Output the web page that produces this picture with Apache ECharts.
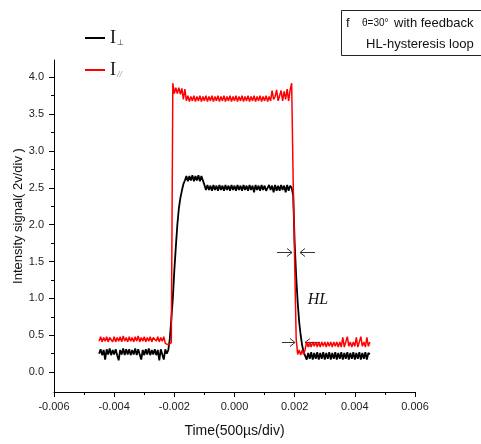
<!DOCTYPE html>
<html><head><meta charset="utf-8">
<script src="https://cdn.jsdelivr.net/npm/echarts@6/dist/echarts.min.js"></script>
<style>html,body{margin:0;padding:0;background:#fff}#c{width:481px;height:444px}</style>
</head><body><div id="c"></div>
<script>
// sampling clock of the trace (s)
const T_START = -0.0045;
const T_STEP = 0.00005;
// tick labels
const xTicks = [-0.006, -0.004, -0.002, 0, 0.002, 0.004, 0.006];
const yTicks = [0, 0.5, 1.0, 1.5, 2.0, 2.5, 3.0, 3.5, 4.0];
const yMinorTicks = [0.25, 0.75, 1.25, 1.75, 2.25, 2.75, 3.25, 3.75];
// I_perp (black)
const perpValues = [
  0.25,0.31,0.23,0.30,0.17,0.31,0.24,0.32,0.23,0.30,
  0.24,0.31,0.23,0.16,0.30,0.24,0.32,0.23,0.31,0.24,
  0.31,0.23,0.30,0.24,0.32,0.23,0.31,0.24,0.17,0.30,
  0.23,0.31,0.24,0.32,0.23,0.30,0.24,0.31,0.23,0.30,
  0.16,0.31,0.24,0.17,0.31,0.25,
  0.30,0.45,0.72,1.00,1.38,1.70,2.00,2.22,2.36,2.46,2.55,2.60,
  2.66,2.59,2.66,2.60,2.67,2.59,2.66,2.60,2.67,2.59,2.66,2.60,
  2.54,2.47,2.54,2.47,2.53,2.46,2.54,2.47,2.53,2.46,
  2.54,2.47,2.53,2.46,2.54,2.47,2.53,2.46,2.54,2.47,
  2.53,2.46,2.54,2.47,2.53,2.46,2.54,2.47,2.53,2.46,
  2.54,2.47,2.53,2.44,2.54,2.47,2.53,2.46,2.54,2.47,
  2.53,2.46,2.44,2.54,2.47,2.53,2.44,2.54,2.46,2.53,
  2.46,2.54,2.47,2.53,2.44,2.54,2.46,2.53,
  2.50,2.40,1.75,1.30,0.95,0.68,0.50,0.36,0.27,0.22,
  0.17,0.26,0.18,0.27,0.17,0.26,0.18,0.27,0.17,0.26,0.18,0.27,
  0.17,0.26,0.18,0.27,0.17,0.26,0.18,0.27,0.17,0.26,
  0.18,0.27,0.17,0.26,0.18,0.27,0.17,0.26,0.18,0.27,
  0.17,0.26,0.18,0.27,0.17,0.26,0.18,0.27,0.17,0.26,0.24
];
// I_parallel (red)
const paraValues = [
  0.42,0.48,0.41,0.47,0.42,0.48,0.41,0.47,0.49,0.41,
  0.48,0.41,0.47,0.42,0.48,0.41,0.49,0.42,0.47,0.41,
  0.48,0.42,0.47,0.41,0.48,0.42,0.49,0.41,0.47,0.42,
  0.48,0.41,0.47,0.42,0.48,0.41,0.47,0.49,0.42,0.48,
  0.41,0.47,0.42,0.48,0.39,0.38,
  0.37,0.38,0.40,
  3.92,3.78,3.86,3.78,3.86,3.77,3.85,3.70,3.84,
  3.68,3.75,3.67,3.74,3.68,3.75,3.67,3.74,3.68,3.75,3.67,3.74,
  3.68,3.75,3.67,3.74,3.68,3.75,3.67,3.74,3.68,3.75,
  3.67,3.74,3.68,3.75,3.67,3.74,3.68,3.75,3.67,3.74,
  3.68,3.75,3.67,3.74,3.68,3.75,3.67,3.74,3.68,3.75,
  3.67,3.74,3.68,3.75,3.67,3.74,3.68,3.75,3.67,3.74,
  3.68,3.75,3.67,3.74,3.68,3.82,3.70,3.74,3.83,3.68,
  3.75,3.82,3.68,3.81,3.70,3.84,3.68,3.83,
  3.92,
  2.60,1.50,0.45,
  0.24,0.30,0.23,0.30,0.24,0.31,
  0.41,0.34,0.41,0.34,0.41,0.35,0.41,0.34,0.41,0.34,0.41,0.35,
  0.41,0.34,0.41,0.35,0.41,0.34,0.41,0.35,0.41,0.34,
  0.41,0.34,0.47,0.34,0.41,0.48,0.35,0.41,0.34,0.41,
  0.35,0.47,0.34,0.41,0.48,0.35,0.41,0.34,0.47,0.35,0.41
];

function toPairs(vals) {
  return vals.map((v, i) => [T_START + i * T_STEP, v]);
}

const chart = echarts.init(document.getElementById('c'), null, {renderer: 'canvas'});
const axisFont = {fontFamily: 'Liberation Sans, Arial, sans-serif', fontSize: 11, color: '#222'};

chart.setOption({
  animation: false,
  backgroundColor: '#fff',
  grid: {left: 54, right: 66, top: 60, bottom: 52, containLabel: false},
  legend: {
    orient: 'vertical', left: 80, top: 24, itemWidth: 20, itemHeight: 2, itemGap: 14,
    icon: 'rect',
    data: ['perp', 'para'],
    formatter: n => n === 'perp' ? '{i|I}{s|⊥}' : '{i|I}{p|//}',
    textStyle: {
      rich: {
        i: {fontFamily: 'Liberation Serif, Times New Roman, serif', fontSize: 18, color: '#111', verticalAlign: 'bottom'},
        s: {fontFamily: 'DejaVu Sans, sans-serif', fontSize: 8, color: '#333', verticalAlign: 'bottom', padding: [8, 0, 0, 1]},
        p: {fontFamily: 'Liberation Serif, serif', fontStyle: 'italic', fontSize: 9, color: '#777', verticalAlign: 'bottom', padding: [8, 0, 0, 1]}
      }
    }
  },
  xAxis: {
    type: 'value', min: -0.006, max: 0.006, interval: 0.002,
    name: 'Time(500\u00b5s/div)', nameLocation: 'middle', nameGap: 32,
    nameTextStyle: {fontFamily: 'Liberation Sans, Arial, sans-serif', fontSize: 14, color: '#111'},
    axisLine: {onZero: false, lineStyle: {color: '#000', width: 1}},
    axisTick: {length: 5, lineStyle: {color: '#000'}},
    minorTick: {show: true, splitNumber: 2, length: 3, lineStyle: {color: '#000'}},
    splitLine: {show: false},
    axisLabel: Object.assign({margin: 9, formatter: v => v.toFixed(3)}, axisFont)
  },
  yAxis: [{
    type: 'value', min: -0.27, max: 4.235,
    axisLine: {show: true, onZero: false, lineStyle: {color: '#000', width: 1}},
    axisTick: {show: true, length: 5, customValues: yTicks, lineStyle: {color: '#000'}},
    splitLine: {show: false},
    axisLabel: Object.assign({margin: 10, customValues: yTicks, formatter: v => v.toFixed(1)}, axisFont)
  }, {
    type: 'value', min: -0.27, max: 4.235, position: 'left', offset: 0,
    axisLine: {show: false, onZero: false},
    axisTick: {show: true, length: 3, customValues: yMinorTicks, lineStyle: {color: '#000'}},
    splitLine: {show: false},
    axisLabel: {show: false}
  }],
  series: [
    {name: 'perp', type: 'line', symbol: 'none', data: toPairs(perpValues),
     lineStyle: {color: '#000', width: 1.8}, itemStyle: {color: '#000'}},
    {name: 'para', type: 'line', symbol: 'none', data: toPairs(paraValues),
     lineStyle: {color: '#ff0000', width: 1.5}, itemStyle: {color: '#ff0000'}}
  ],
  graphic: [
    {type: 'text', x: 18, y: 216, rotation: Math.PI / 2,
     style: {text: 'Intensity signal( 2v/div )', fontFamily: 'Liberation Sans, Arial, sans-serif', fontSize: 13, fill: '#111', align: 'center', verticalAlign: 'middle'}},
    {type: 'rect', shape: {x: 341.5, y: 10.5, width: 150, height: 45}, style: {fill: 'none', stroke: '#222', lineWidth: 1}},
    {type: 'text', x: 346, y: 23, style: {text: 'f', fontFamily: 'Liberation Sans, Arial, sans-serif', fontSize: 13, fill: '#111', verticalAlign: 'middle'}},
    {type: 'text', x: 362, y: 23, style: {text: '\u03b8=30\u00b0', fontFamily: 'Liberation Sans, Arial, sans-serif', fontSize: 10, fill: '#111', verticalAlign: 'middle'}},
    {type: 'text', x: 394, y: 23, style: {text: 'with feedback', fontFamily: 'Liberation Sans, Arial, sans-serif', fontSize: 13, fill: '#111', verticalAlign: 'middle'}},
    {type: 'text', x: 366, y: 44, style: {text: 'HL-hysteresis loop', fontFamily: 'Liberation Sans, Arial, sans-serif', fontSize: 13, fill: '#111', verticalAlign: 'middle'}},
    {type: 'text', x: 318, y: 300, style: {text: 'HL', fontFamily: 'Liberation Serif, Times New Roman, serif', fontStyle: 'italic', fontSize: 16, fill: '#111', align: 'center', verticalAlign: 'middle'}},
    // upper arrows
    {type: 'line', shape: {x1: 277, y1: 252.5, x2: 292, y2: 252.5}, style: {stroke: '#333', lineWidth: 1}},
    {type: 'polyline', shape: {points: [[287, 248.5], [292, 252.5], [287, 256.5]]}, style: {stroke: '#333', lineWidth: 1, fill: 'none'}},
    {type: 'line', shape: {x1: 300, y1: 252.5, x2: 315, y2: 252.5}, style: {stroke: '#333', lineWidth: 1}},
    {type: 'polyline', shape: {points: [[305, 248.5], [300, 252.5], [305, 256.5]]}, style: {stroke: '#333', lineWidth: 1, fill: 'none'}},
    // lower arrows
    {type: 'line', shape: {x1: 282, y1: 342.5, x2: 295, y2: 342.5}, style: {stroke: '#333', lineWidth: 1}},
    {type: 'polyline', shape: {points: [[290, 338.5], [295, 342.5], [290, 346.5]]}, style: {stroke: '#333', lineWidth: 1, fill: 'none'}},
    {type: 'line', shape: {x1: 305, y1: 342.5, x2: 320, y2: 342.5}, style: {stroke: '#333', lineWidth: 1}},
    {type: 'polyline', shape: {points: [[310, 338.5], [305, 342.5], [310, 346.5]]}, style: {stroke: '#333', lineWidth: 1, fill: 'none'}}
  ]
});
</script>
</body></html>
